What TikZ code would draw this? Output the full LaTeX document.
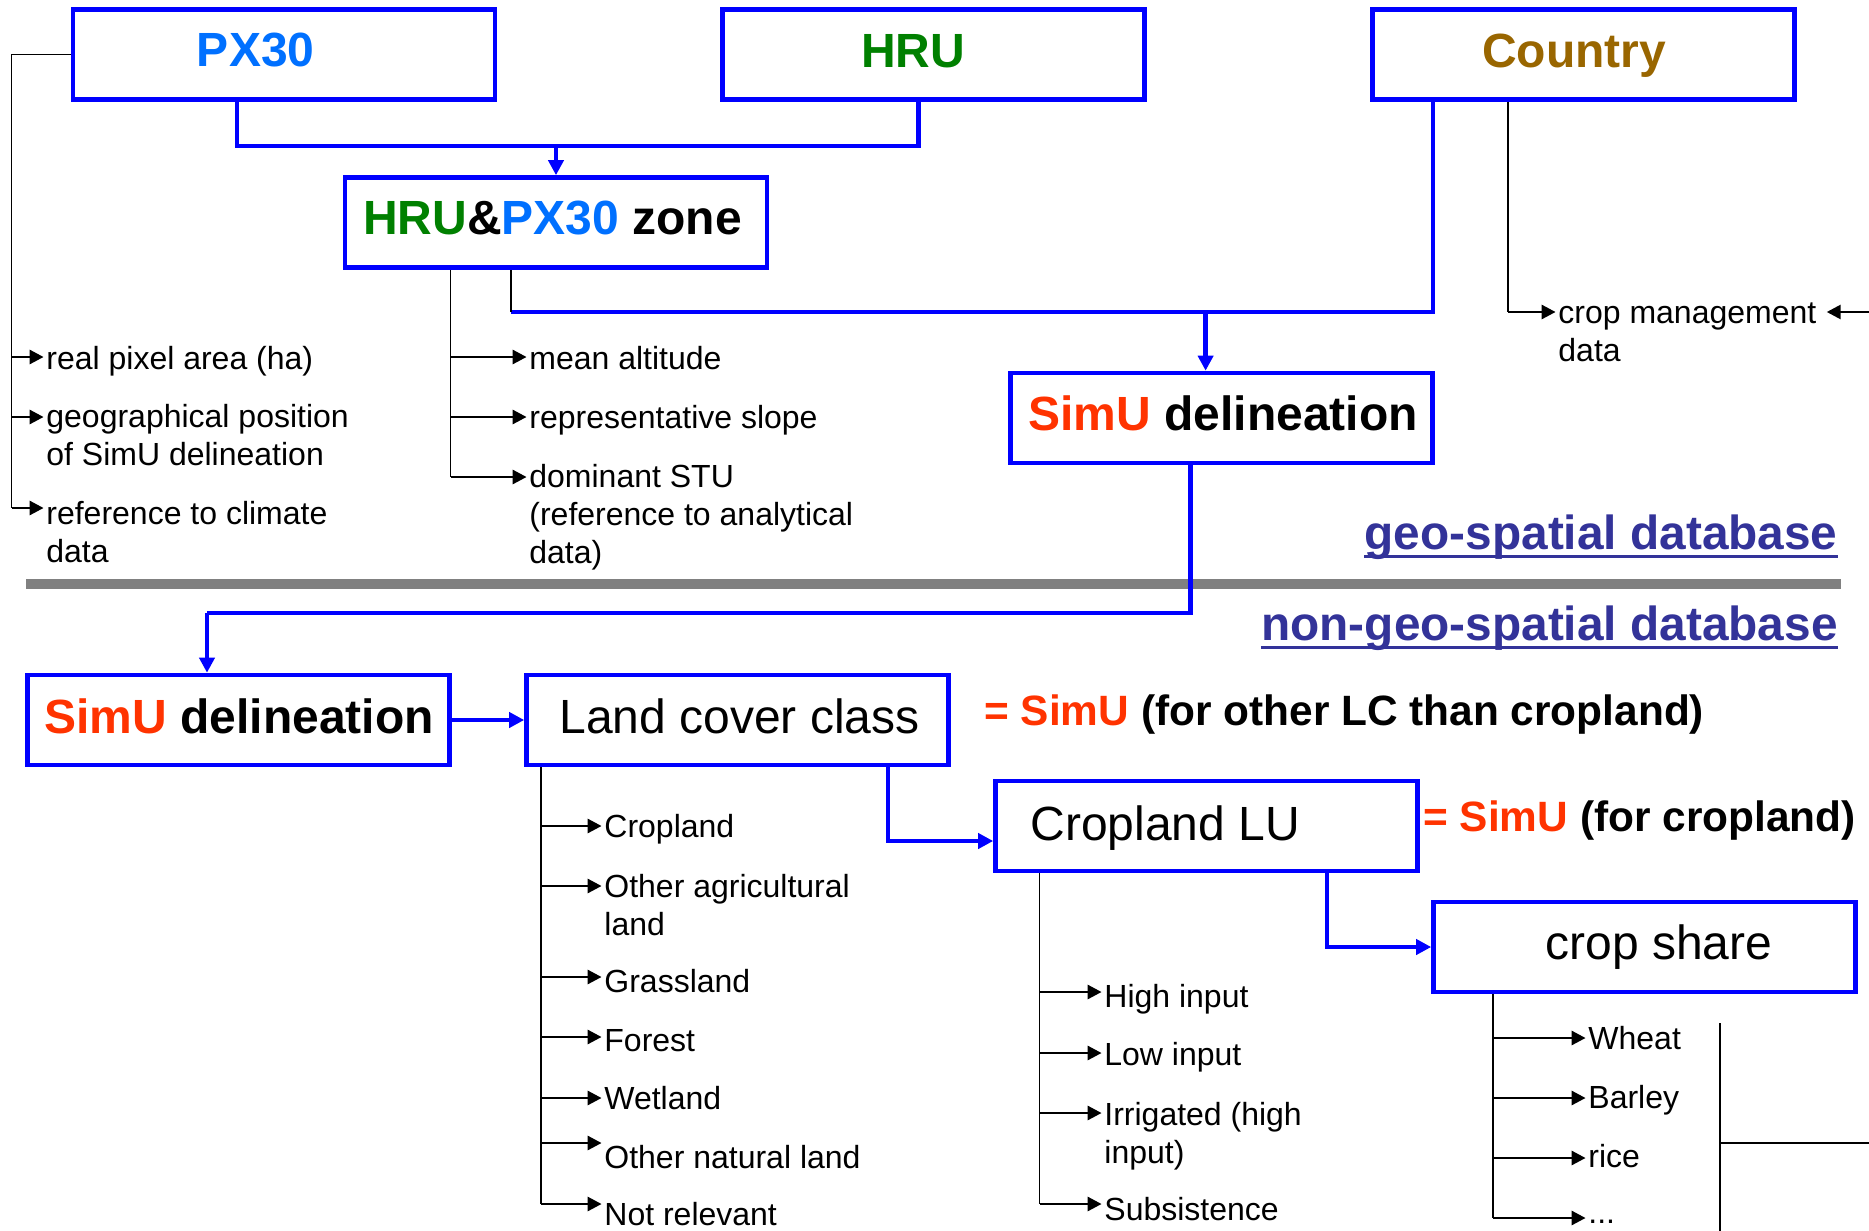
\documentclass[tikz,border=0pt]{standalone}
\usepackage{fontspec}
\setmainfont{Liberation Sans}
\usetikzlibrary{arrows.meta,calc}

\definecolor{linkblue}{RGB}{0,0,255}
\definecolor{pxblue}{RGB}{0,112,255}
\definecolor{hrugreen}{RGB}{0,128,0}
\definecolor{countrybrown}{RGB}{153,102,0}
\definecolor{simured}{RGB}{255,51,0}
\definecolor{dbblue}{RGB}{51,51,153}
\definecolor{sepgray}{RGB}{128,128,128}

% arrow from a tree trunk to a list entry at height #3
\newcommand\leafarrow[3]{\draw[leaf] (#1 |- 0,#3) -- (#2.west |- 0,#3);}

\begin{document}
\begin{tikzpicture}[x=0.5pt,y=-0.5pt,
  box/.style={draw=linkblue, line width=2.3pt, minimum width=211pt,
              minimum height=45pt, inner sep=0pt},
  title/.style={font=\bfseries\fontsize{24}{28}\selectfont, inner sep=0pt, anchor=base},
  plain/.style={font=\fontsize{24}{28}\selectfont, inner sep=0pt, anchor=base},
  eq/.style={font=\bfseries\fontsize{21.2}{25}\selectfont, inner sep=0pt, anchor=base west},
  db/.style={font=\bfseries\fontsize{23.9}{28}\selectfont, text=dbblue, inner sep=0pt, anchor=base east},
  item/.style={font=\fontsize{16}{19}\selectfont, inner sep=0pt, anchor=base west, align=left},
  link/.style={draw=linkblue, line width=2.2pt},
  linkarrow/.style={link, -{Triangle[length=7.5pt,width=7.5pt]}},
  tree/.style={draw=black, line width=0.9pt},
  leaf/.style={draw=black, line width=1.4pt, shorten >=1.2pt,
               -{Triangle[length=7pt,width=7pt]}},
]
\useasboundingbox[fill=white] (0,0) rectangle (1869,1231);

% ---------------- boxes ----------------
\node[box] (px30)    at (284,54.5)   {};
\node[box] (hru)     at (933.5,54.5) {};
\node[box] (country) at (1583.5,54.5){};
\node[box] (zone)    at (556,222.5)  {};
\node[box] (simu1)   at (1221.5,418) {};
\node[box] (simu2)   at (238.5,720)  {};
\node[box] (lc)      at (737.5,720)  {};
\node[box] (clu)     at (1206.5,826) {};
\node[box] (cs)      at (1644.5,947) {};

% ---------------- box titles ----------------
\node[title, text=pxblue]       (px30-t)    at (255.7,66.7) {PX30};
\node[title, text=hrugreen]     (hru-t)     at (913,67)     {HRU};
\node[title, text=countrybrown] (country-t) at (1574,67)    {Country};
\node[title] (zone-t)  at (552.5,234)  {\textcolor{hrugreen}{HRU}\&\textcolor{pxblue}{PX30} zone};
\node[title] (simu1-t) at (1223,430.5) {\textcolor{simured}{SimU} delineation};
\node[title] (simu2-t) at (239,733)    {\textcolor{simured}{SimU} delineation};
\node[plain] (lc-t)    at (739.5,733)  {Land cover class};
\node[plain, anchor=base west] (clu-t) at (1030,840) {Cropland LU};
\node[plain] (cs-t)    at (1659,959)   {crop share};

\node[eq] (eq-lc)  at (984,725)    {\textcolor{simured}{= SimU} (for other LC than cropland)};
\node[eq] (eq-clu) at (1423,831.7) {\textcolor{simured}{= SimU} (for cropland)};

% ---------------- database split ----------------
\coordinate (sepL) at (26,584);
\coordinate (sepR) at (1841,584);
\draw[sepgray, line width=5pt] (sepL) -- (sepR);
\node[db] (geo)    at (1838,549) {geo-spatial database};
\node[db] (nongeo) at (1838,640) {non-geo-spatial database};
\draw[dbblue, line width=1.5pt] ($(geo.base west)+(0,7)$) -- ($(geo.base east)+(0,7)$);
\draw[dbblue, line width=1.5pt] ($(nongeo.base west)+(0,7)$) -- ($(nongeo.base east)+(0,7)$);

% ---------------- blue flow ----------------
\coordinate (jtop)  at (556,146);
\coordinate (jmid)  at (511,312);
\coordinate (jsimu) at (1205.6,312);
\coordinate (jdown) at (207,613);
\draw[link] (px30.south -| 237,0) |- (jtop) -| (hru.south -| 918.5,0);
\draw[linkarrow] (jtop) -- (zone.north);
\draw[link] (country.south -| 1433,0) |- (jmid);
\draw[tree] (zone.south -| jmid) -- (jmid);
\draw[linkarrow] (jsimu) -- (simu1.north -| jsimu);
\draw[link] (simu1.south -| 1190.5,0) |- (jdown);
\draw[linkarrow] (jdown) -- (simu2.north -| jdown);
\draw[linkarrow] (simu2.east) -- (lc.west);
\draw[linkarrow] (lc.south -| 888,0) |- (clu.west |- 0,841);
\draw[linkarrow] (clu.south -| 1327,0) |- (cs.west);

% ---------------- PX30 attributes ----------------
% (multi-line entries are anchored on the baseline of their last line)
\coordinate (trA) at (11.5,508);
\draw[tree] (px30.west) -| (trA);
\node[item] (a-area)    at (46,369) {real pixel area (ha)};
\node[item] (a-geo)     at (46,465) {geographical position\\of SimU delineation};
\node[item] (a-climate) at (46,562) {reference to climate\\data};
\leafarrow{trA}{a-area}{357}
\leafarrow{trA}{a-geo}{417}
\leafarrow{trA}{a-climate}{508}

% ---------------- zone attributes ----------------
\coordinate (trB) at (450.5,477);
\draw[tree] (zone.south -| trB) -- (trB);
\node[item] (b-alt)   at (529,369) {mean altitude};
\node[item] (b-slope) at (529,428) {representative slope};
\node[item] (b-stu)   at (529,563) {dominant STU\\(reference to analytical\\data)};
\leafarrow{trB}{b-alt}{357}
\leafarrow{trB}{b-slope}{417}
\leafarrow{trB}{b-stu}{477}

% ---------------- country attributes ----------------
\coordinate (trC) at (1508,312);
\coordinate (cmin) at (1869,312);
\draw[tree] (country.south -| trC) -- (trC);
\node[item] (c-crop) at (1558,361) {crop management\\data};
\leafarrow{trC}{c-crop}{312}
\draw[leaf, shorten >=5pt] (cmin) -- (c-crop.east |- cmin);

% ---------------- land cover classes ----------------
\coordinate (trD) at (541,1204);
\draw[tree] (lc.south -| trD) -- (trD);
\node[item] (d-crop)  at (604,837)  {Cropland};
\node[item] (d-oagr)  at (604,935)  {Other agricultural\\land};
\node[item] (d-grass) at (604,992)  {Grassland};
\node[item] (d-for)   at (604,1051) {Forest};
\node[item] (d-wet)   at (604,1109) {Wetland};
\node[item] (d-onat)  at (604,1168) {Other natural land};
\node[item] (d-nrel)  at (604,1225) {Not relevant};
\leafarrow{trD}{d-crop}{826}
\leafarrow{trD}{d-oagr}{886}
\leafarrow{trD}{d-grass}{977}
\leafarrow{trD}{d-for}{1037}
\leafarrow{trD}{d-wet}{1098}
\leafarrow{trD}{d-onat}{1143}
\leafarrow{trD}{d-nrel}{1204}

% ---------------- cropland management systems ----------------
\coordinate (trE) at (1039.5,1204);
\draw[tree] (clu.south -| trE) -- (trE);
\node[item] (e-high) at (1104,1007) {High input};
\node[item] (e-low)  at (1104,1065) {Low input};
\node[item] (e-irr)  at (1104,1163) {Irrigated (high\\input)};
\node[item] (e-sub)  at (1104,1220) {Subsistence};
\leafarrow{trE}{e-high}{992}
\leafarrow{trE}{e-low}{1053}
\leafarrow{trE}{e-irr}{1113}
\leafarrow{trE}{e-sub}{1204}

% ---------------- crops ----------------
\coordinate (trF) at (1493,1218);
\draw[tree] (cs.south -| trF) -- (trF);
\node[item] (f-wheat)  at (1588,1049) {Wheat};
\node[item] (f-barley) at (1588,1108) {Barley};
\node[item] (f-rice)   at (1588,1167) {rice};
\node[item] (f-more)   at (1588,1223) {...};
\leafarrow{trF}{f-wheat}{1038}
\leafarrow{trF}{f-barley}{1098}
\leafarrow{trF}{f-rice}{1158}
\leafarrow{trF}{f-more}{1218}

% ---------------- outgoing links on the right ----------------
\coordinate (rTop) at (1720,1023);
\coordinate (rBot) at (1720,1231);
\coordinate (rOut) at (1869,1143);
\draw[tree] (rTop) -- (rBot);
\draw[tree] (rTop |- rOut) -- (rOut);
\end{tikzpicture}
\end{document}
